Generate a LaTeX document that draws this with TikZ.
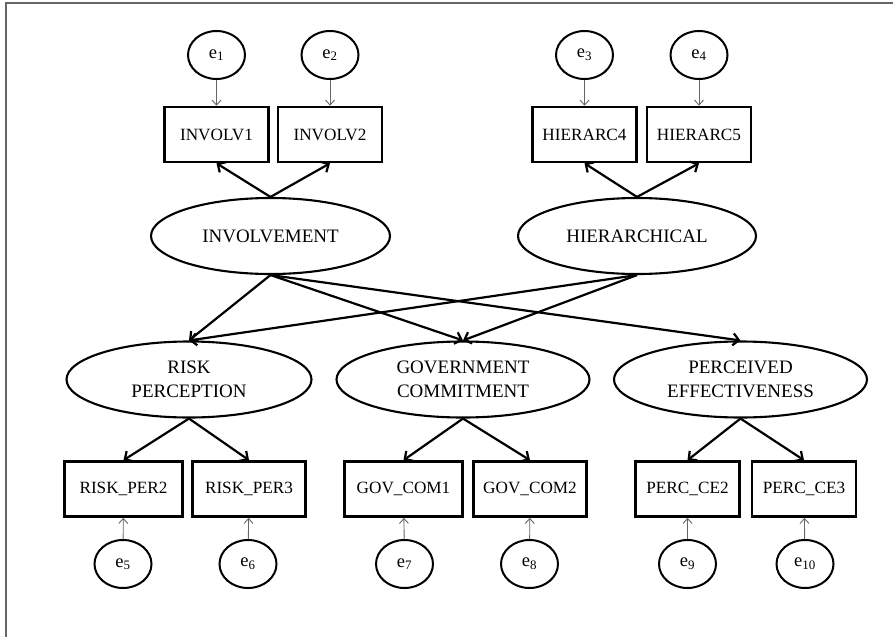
\documentclass[tikz,border=0pt]{standalone}
\usepackage{fontspec}
\setmainfont{Liberation Serif}
\usetikzlibrary{shapes.geometric,arrows.meta}

\begin{document}
\begin{tikzpicture}[x=1pt,y=-1pt,
  latent/.style={ellipse,draw,line width=2.1pt,inner sep=0pt,align=center,
    minimum height=76pt,font=\fontsize{19}{24}\selectfont},
  indic/.style={rectangle,draw,line width=2.6pt,minimum height=55pt,
    font=\fontsize{17.2}{19}\selectfont},
  err/.style={ellipse,draw,line width=2pt,inner sep=0pt,minimum width=57pt,
    minimum height=48pt,font=\fontsize{18.5}{20}\selectfont},
  load/.style={line width=2.2pt,-{Straight Barb[length=6pt,width=12pt]}},
  eload/.style={draw=black!60,line width=0.9pt,-{Straight Barb[length=5pt,width=9pt]}}]
\useasboundingbox(0,0)rectangle(893,637);
\draw[black!60,line width=1.4pt](6,637)--(6,3)--(893,3);
\node[err](e1)at(216.5,55){e\textsubscript{1}};
\node[err](e2)at(330,55){e\textsubscript{2}};
\node[err](e3)at(584.5,55){e\textsubscript{3}};
\node[err](e4)at(699,55){e\textsubscript{4}};
\node[indic,minimum width=104pt](involv1)at(216.5,134.5){INVOLV1};
\node[indic,minimum width=104pt](involv2)at(330,134.5){INVOLV2};
\node[indic,minimum width=104pt](hierarc4)at(584.5,134.5){HIERARC4};
\node[indic,minimum width=104pt](hierarc5)at(699,134.5){HIERARC5};
\node[latent,minimum width=239pt](involvement)at(270.5,236){INVOLVEMENT};
\node[latent,minimum width=238pt](hierarchical)at(637,236){HIERARCHICAL};
\node[latent,minimum width=245pt](risk)at(189,379.5){RISK\\PERCEPTION};
\node[latent,minimum width=253pt](gov)at(463,379.5){GOVERNMENT\\COMMITMENT};
\node[latent,minimum width=253pt](perc)at(740.5,379.5){PERCEIVED\\EFFECTIVENESS};
\node[indic,minimum width=118pt](riskper2)at(123.5,489){RISK\_PER2};
\node[indic,minimum width=113pt](riskper3)at(249,489){RISK\_PER3};
\node[indic,minimum width=118pt](govcom1)at(403.5,489){GOV\_COM1};
\node[indic,minimum width=113pt](govcom2)at(530,489){GOV\_COM2};
\node[indic,minimum width=104pt](percce2)at(687.5,489){PERC\_CE2};
\node[indic,minimum width=104pt](percce3)at(804,489){PERC\_CE3};
\node[err](e5)at(123,564){e\textsubscript{5}};
\node[err](e6)at(248,564){e\textsubscript{6}};
\node[err](e7)at(404.5,564){e\textsubscript{7}};
\node[err](e8)at(529.5,564){e\textsubscript{8}};
\node[err](e9)at(687.5,564){e\textsubscript{9}};
\node[err](e10)at(805,564){e\textsubscript{10}};
\draw[eload](e1)--(involv1);
\draw[eload](e2)--(involv2);
\draw[eload](e3)--(hierarc4);
\draw[eload](e4)--(hierarc5);
\draw[eload](e5)--(riskper2);
\draw[eload](e6)--(riskper3);
\draw[eload](e7)--(govcom1);
\draw[eload](e8)--(govcom2);
\draw[eload](e9)--(percce2);
\draw[eload](e10)--(percce3);
\draw[load](involvement.north)--(involv1.south);
\draw[load](involvement.north)--(involv2.south);
\draw[load](hierarchical.north)--(hierarc4.south);
\draw[load](hierarchical.north)--(hierarc5.south);
\draw[load](involvement.south)--(risk.north);
\draw[load](involvement.south)--(gov.north);
\draw[load](involvement.south)--(perc.north);
\draw[load](hierarchical.south)--(risk.north);
\draw[load](hierarchical.south)--(gov.north);
\draw[load](risk.south)--(riskper2.north);
\draw[load](risk.south)--(riskper3.north);
\draw[load](gov.south)--(govcom1.north);
\draw[load](gov.south)--(govcom2.north);
\draw[load](perc.south)--(percce2.north);
\draw[load](perc.south)--(percce3.north);
\end{tikzpicture}
\end{document}
